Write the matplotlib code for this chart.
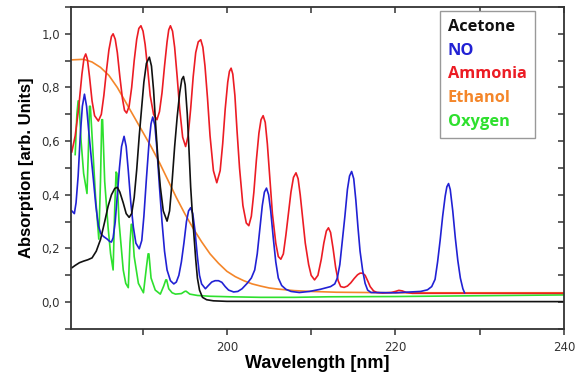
import matplotlib.pyplot as plt
from matplotlib.ticker import MultipleLocator, FuncFormatter

# Acetone
acetone_x = [181.6, 182.0, 182.5, 183.0, 183.5, 184.0, 184.5, 185.0, 185.5, 185.9, 186.3,
             186.7, 187.0, 187.3, 187.7, 188.05, 188.4, 188.7, 189.0, 189.3, 189.6, 189.9,
             190.15, 190.45, 190.8, 191.05, 191.3, 191.55, 191.8, 192.1, 192.45, 192.9,
             193.2, 193.5, 193.8, 194.1, 194.4, 194.65, 194.85, 195.05, 195.3, 195.5,
             195.7, 195.9, 196.1, 196.3, 196.5, 196.75, 197.1, 197.6, 198.4, 200.0, 240.0]
acetone_y = [0.128, 0.137, 0.147, 0.153, 0.158, 0.165, 0.19, 0.233, 0.30, 0.357, 0.40,
             0.424, 0.428, 0.41, 0.37, 0.33, 0.316, 0.33, 0.39, 0.494, 0.62, 0.73,
             0.82, 0.89, 0.913, 0.88, 0.79, 0.66, 0.54, 0.43, 0.34, 0.302,
             0.34, 0.45, 0.58, 0.69, 0.78, 0.83, 0.841, 0.81, 0.70, 0.57,
             0.43, 0.33, 0.245, 0.16, 0.09, 0.045, 0.018, 0.009, 0.005, 0.003, 0.002]

# NO
no_x = [181.6, 181.9, 182.1, 182.35, 182.6, 182.85, 183.1, 183.35, 183.6, 183.9, 184.15,
        184.45, 184.75, 185.05, 185.35, 185.8, 186.1, 186.3, 186.5, 186.75, 187.0, 187.25,
        187.5, 187.8, 188.05, 188.3, 188.6, 188.9, 189.2, 189.6, 189.9, 190.15, 190.45,
        190.75, 191.0, 191.2, 191.45, 191.7, 192.0, 192.3, 192.6, 192.9, 193.3, 193.7,
        194.0, 194.3, 194.6, 194.9, 195.2, 195.45, 195.7, 195.95, 196.2, 196.5, 196.75,
        197.0, 197.45, 197.8, 198.2, 198.6, 199.0, 199.4, 199.8, 200.2, 200.8, 201.3,
        201.8, 202.4, 202.9, 203.3, 203.6, 203.9, 204.2, 204.45, 204.7, 204.95, 205.2,
        205.5, 205.8, 206.1, 206.5, 207.0, 207.6, 208.6, 209.8, 211.1, 212.3, 212.8,
        213.1, 213.4, 213.7, 214.0, 214.3, 214.55, 214.8, 215.05, 215.3, 215.55, 215.8,
        216.1, 216.4, 216.7, 217.1, 220.0, 223.0, 223.8, 224.3, 224.7, 225.0, 225.3,
        225.6, 225.9, 226.1, 226.3, 226.5, 226.8, 227.1, 227.4, 227.7, 228.0, 228.2]
no_y = [0.34, 0.33, 0.37, 0.47, 0.62, 0.73, 0.775, 0.73, 0.64, 0.54, 0.46,
        0.36, 0.285, 0.255, 0.245, 0.235, 0.226, 0.224, 0.24, 0.30, 0.40, 0.50,
        0.58, 0.618, 0.58, 0.49, 0.37, 0.28, 0.22, 0.199, 0.23, 0.32, 0.46,
        0.59, 0.665, 0.69, 0.66, 0.57, 0.43, 0.30, 0.19, 0.12, 0.08, 0.068,
        0.075, 0.10, 0.15, 0.22, 0.30, 0.34, 0.352, 0.33, 0.27, 0.17, 0.10,
        0.068, 0.05, 0.062, 0.075, 0.08, 0.08, 0.074, 0.058, 0.045, 0.038, 0.04,
        0.05, 0.07, 0.09, 0.12, 0.18, 0.27, 0.36, 0.41, 0.425, 0.40, 0.34,
        0.24, 0.15, 0.09, 0.062, 0.048, 0.04, 0.036, 0.04, 0.048, 0.058, 0.068,
        0.09, 0.14, 0.23, 0.32, 0.42, 0.47, 0.487, 0.46, 0.38, 0.28, 0.19,
        0.12, 0.07, 0.045, 0.036, 0.035, 0.04, 0.046, 0.058, 0.085, 0.15, 0.23,
        0.32, 0.395, 0.43, 0.442, 0.42, 0.34, 0.24, 0.155, 0.09, 0.05, 0.035]

# Ammonia
ammonia_x = [181.6, 182.0, 182.4, 182.8, 183.05, 183.25, 183.45, 183.7, 184.0, 184.3, 184.75,
             185.1, 185.4, 185.7, 186.0, 186.3, 186.5, 186.75, 187.0, 187.3, 187.6, 187.85,
             188.1, 188.4, 188.7, 189.0, 189.3, 189.55, 189.8, 190.05, 190.3, 190.6, 190.9,
             191.3, 191.7, 192.0, 192.3, 192.6, 192.9, 193.1, 193.3, 193.55, 193.8, 194.1,
             194.4, 194.75, 195.1, 195.4, 195.7, 196.0, 196.3, 196.6, 196.9, 197.15, 197.4,
             197.7, 198.0, 198.4, 198.8, 199.2, 199.5, 199.8, 200.1, 200.3, 200.5, 200.7,
             200.95, 201.2, 201.5, 201.9, 202.3, 202.6, 202.9, 203.2, 203.5, 203.8, 204.05,
             204.3, 204.55, 204.8, 205.1, 205.4, 205.8, 206.1, 206.4, 206.7, 207.0, 207.3,
             207.6, 207.9, 208.2, 208.45, 208.7, 209.0, 209.3, 209.7, 210.0, 210.4, 210.8,
             211.2, 211.5, 211.8, 212.05, 212.3, 212.6, 212.9, 213.2, 213.5, 213.9, 214.3,
             214.7, 215.1, 215.5, 215.8, 216.1, 216.4, 216.7, 217.0, 217.4, 217.8, 218.5,
             219.5, 220.0, 220.4, 220.8, 221.3, 222.0, 225.0, 240.0]
ammonia_y = [0.56, 0.62, 0.72, 0.85, 0.91, 0.925, 0.905, 0.84, 0.75, 0.695, 0.675,
             0.70, 0.77, 0.86, 0.94, 0.99, 1.0, 0.98, 0.93, 0.84, 0.76, 0.715,
             0.705, 0.73, 0.80, 0.90, 0.98, 1.02, 1.03, 1.01, 0.96, 0.87, 0.77,
             0.70, 0.68, 0.71, 0.78, 0.88, 0.97, 1.015, 1.03, 1.01, 0.95, 0.84,
             0.72, 0.615, 0.58, 0.62, 0.72, 0.84, 0.93, 0.97, 0.978, 0.95, 0.88,
             0.76, 0.62, 0.49, 0.445, 0.49, 0.59, 0.72, 0.82, 0.86, 0.872, 0.85,
             0.77, 0.64, 0.50, 0.36, 0.295, 0.285, 0.32, 0.41, 0.53, 0.63, 0.68,
             0.695, 0.67, 0.59, 0.46, 0.33, 0.22, 0.17, 0.16, 0.18, 0.25, 0.33,
             0.41, 0.465, 0.482, 0.46, 0.40, 0.31, 0.22, 0.14, 0.10, 0.083, 0.10,
             0.16, 0.22, 0.265, 0.277, 0.26, 0.20, 0.13, 0.08, 0.058, 0.055, 0.06,
             0.072, 0.088, 0.102, 0.108, 0.108, 0.10, 0.08, 0.058, 0.042, 0.036, 0.034,
             0.036, 0.04, 0.044, 0.042, 0.036, 0.033, 0.033, 0.033]

# Ethanol
ethanol_x = [181.6, 183.0, 184.0, 185.0, 186.0, 187.0, 188.0, 189.0, 190.0, 191.0, 192.0,
             193.0, 194.0, 195.0, 196.0, 197.0, 198.0, 199.0, 200.0, 201.0, 202.0, 203.0,
             204.0, 205.0, 206.0, 208.0, 210.0, 213.0, 220.0, 240.0]
ethanol_y = [0.903, 0.905, 0.895, 0.875, 0.845, 0.80, 0.745, 0.69, 0.635, 0.58, 0.52,
             0.455, 0.39, 0.33, 0.275, 0.225, 0.18, 0.145, 0.115, 0.095, 0.08, 0.068,
             0.06, 0.053, 0.049, 0.043, 0.04, 0.037, 0.035, 0.035]

# Oxygen
oxygen_x = [182.0, 182.2, 182.35, 182.45, 182.7, 183.0, 183.4, 183.55, 183.7, 183.8, 184.0,
            184.4, 184.8, 185.0, 185.15, 185.25, 185.5, 185.9, 186.2, 186.5, 186.7, 186.85,
            186.95, 187.2, 187.7, 188.0, 188.3, 188.5, 188.65, 188.75, 189.0, 189.5, 190.1,
            190.45, 190.65, 190.75, 191.0, 191.5, 192.1, 192.5, 192.75, 192.85, 193.1, 193.5,
            193.9, 194.6, 195.0, 195.15, 195.6, 196.5, 198.0, 200.4, 204.0, 208.0, 212.0,
            220.0, 230.0, 240.0]
oxygen_y = [0.55, 0.70, 0.75, 0.75, 0.60, 0.48, 0.405, 0.55, 0.73, 0.73, 0.62,
            0.40, 0.235, 0.45, 0.68, 0.68, 0.45, 0.28, 0.18, 0.12, 0.36, 0.485,
            0.48, 0.30, 0.12, 0.07, 0.054, 0.22, 0.29, 0.29, 0.17, 0.07, 0.035,
            0.13, 0.18, 0.18, 0.09, 0.045, 0.03, 0.06, 0.083, 0.083, 0.05, 0.035,
            0.03, 0.032, 0.04, 0.041, 0.03, 0.025, 0.022, 0.02, 0.018, 0.018, 0.02,
            0.021, 0.024, 0.027]

names = ['Acetone', 'NO', 'Ammonia', 'Ethanol', 'Oxygen']
colors = ['#111111', '#2121d4', '#ec1c24', '#f4862a', '#2ee02e']

fig = plt.figure(figsize=(5.78, 3.72), dpi=100)
ax = fig.add_axes([0.1228, 0.1156, 0.853, 0.8656])

ax.plot(ethanol_x, ethanol_y, color=colors[3], lw=1.2, label=names[3])
ax.plot(oxygen_x, oxygen_y, color=colors[4], lw=1.2, label=names[4])
ax.plot(ammonia_x, ammonia_y, color=colors[2], lw=1.2, label=names[2])
ax.plot(no_x, no_y, color=colors[1], lw=1.2, label=names[1])
ax.plot(acetone_x, acetone_y, color=colors[0], lw=1.2, label=names[0])

ax.set_xlim(181.5, 240)
ax.set_ylim(-0.1, 1.1)
ax.xaxis.set_major_locator(MultipleLocator(20))
ax.xaxis.set_minor_locator(MultipleLocator(10))
ax.yaxis.set_major_locator(MultipleLocator(0.2))
ax.yaxis.set_minor_locator(MultipleLocator(0.1))
ax.yaxis.set_major_formatter(FuncFormatter(lambda v, p: f'{v:.1f}'.replace('.', ',')))
ax.xaxis.set_major_formatter(FuncFormatter(lambda v, p: f'{v:.0f}'))

for s in ax.spines.values():
    s.set_linewidth(1.3)
    s.set_color('#333333')

ax.tick_params(axis='both', which='both', direction='out', length=4.5, width=1.1,
               color='#333333', labelsize=8.5, labelcolor='#333333')
ax.tick_params(axis='x', which='major', pad=4)

# ticks on top and right, pointing inward, no labels
top = ax.secondary_xaxis('top')
top.xaxis.set_major_locator(MultipleLocator(10))
top.tick_params(direction='in', length=4.5, width=1.1, color='#333333', labeltop=False)
top.spines['top'].set_visible(False)
right = ax.secondary_yaxis('right')
right.yaxis.set_major_locator(MultipleLocator(0.1))
right.tick_params(direction='in', length=4.5, width=1.1, color='#333333', labelright=False)
right.spines['right'].set_visible(False)

ax.set_xlabel('Wavelength [nm]', fontsize=13, fontweight='bold',
              family='Liberation Sans', labelpad=1)
ax.set_ylabel('Absorption [arb. Units]', fontsize=12, fontweight='bold',
              family='Liberation Sans', labelpad=5)

handles, labels = ax.get_legend_handles_labels()
order = [labels.index(n) for n in names]
leg = ax.legend([handles[i] for i in order], names, loc='upper right',
                bbox_to_anchor=(0.941, 0.988), borderaxespad=0, handlelength=0,
                handletextpad=0, fancybox=False, framealpha=1, edgecolor='#999999',
                borderpad=0.5, labelspacing=0.47,
                prop={'family': 'Open Sans', 'weight': 'bold', 'size': 11.8})
leg.get_frame().set_linewidth(1.0)
for h in leg.legend_handles:
    h.set_visible(False)
for t, c in zip(leg.get_texts(), colors):
    t.set_color(c)

fig.savefig('out.png', dpi=100)
